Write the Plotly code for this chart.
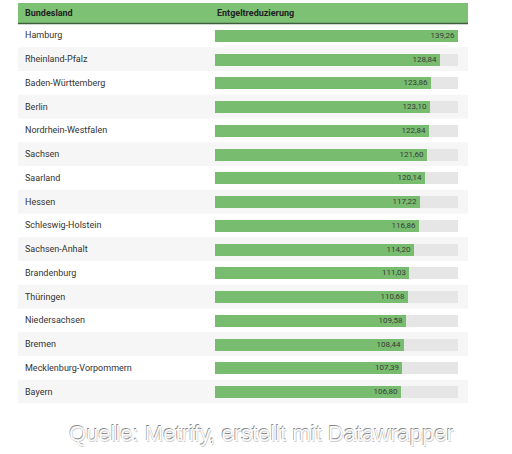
import plotly.graph_objects as go

W, H = 512, 454

states = ["Hamburg", "Rheinland-Pfalz", "Baden-Württemberg", "Berlin",
          "Nordrhein-Westfalen", "Sachsen", "Saarland", "Hessen",
          "Schleswig-Holstein", "Sachsen-Anhalt", "Brandenburg", "Thüringen",
          "Niedersachsen", "Bremen", "Mecklenburg-Vorpommern", "Bayern"]
values = [139.26, 128.84, 123.86, 123.10, 122.84, 121.60, 120.14, 117.22,
          116.86, 114.20, 111.03, 110.68, 109.58, 108.44, 107.39, 106.80]

col_header = "Bundesland"
val_header = "Entgeltreduzierung"
source = "Quelle: Metrify, erstellt mit Datawrapper"

vmax = max(values)
labels = [f"{v:.2f}".replace(".", ",") for v in values]


def px_x(p):
    return p / W


def px_y(p):
    return 1 - p / H


# table geometry in pixels
tbl_left, tbl_right = 18, 468
head_top, head_bot = 3, 23.5
rows_top, rows_bot = 23.5, 403.5
bar_left, bar_right = 215, 458

fig = go.Figure()

fig.add_trace(go.Bar(
    y=states, x=[vmax] * len(states), orientation="h",
    marker=dict(color="#e6e6e6", line_width=0), width=0.5,
    hoverinfo="skip", showlegend=False))

fig.add_trace(go.Bar(
    y=states, x=values, orientation="h",
    marker=dict(color="#78bd6f", line_width=0), width=0.5,
    text=labels, textposition="inside", insidetextanchor="end",
    textfont=dict(family="Roboto", size=8, color="#3a3a3a"),
    textangle=0, cliponaxis=False, showlegend=False))

shapes = []
# alternating row backgrounds
for i, s in enumerate(states):
    if i % 2 == 1:
        shapes.append(dict(type="rect", xref="paper", yref="y", layer="below",
                           x0=px_x(tbl_left), x1=px_x(tbl_right),
                           y0=i - 0.5, y1=i + 0.5,
                           fillcolor="#f6f6f6", line_width=0))
# header
shapes.append(dict(type="rect", xref="paper", yref="paper", layer="below",
                   x0=px_x(tbl_left), x1=px_x(tbl_right),
                   y0=px_y(head_bot), y1=px_y(head_top),
                   fillcolor="#7cc174", line_width=0))
shapes.append(dict(type="line", xref="paper", yref="paper",
                   x0=px_x(tbl_left), x1=px_x(tbl_right),
                   y0=px_y(head_bot), y1=px_y(head_bot),
                   line=dict(color="#3f5f3c", width=1.5)))

annotations = [
    dict(text="<b>" + col_header + "</b>", xref="paper", yref="paper",
         x=px_x(23), y=px_y((head_top + head_bot) / 2), xanchor="left",
         yanchor="middle", showarrow=False,
         font=dict(family="Roboto", size=9, color="#222222")),
    dict(text="<b>" + val_header + "</b>", xref="paper", yref="paper",
         x=px_x(bar_left), y=px_y((head_top + head_bot) / 2), xanchor="left",
         yanchor="middle", showarrow=False,
         font=dict(family="Roboto", size=9, color="#222222")),
    dict(text=source, xref="paper", yref="paper",
         x=px_x(261), y=px_y(433), xanchor="center", yanchor="middle",
         showarrow=False,
         font=dict(family="Liberation Sans", size=22, color="#fafafa",
                   shadow="-0.6px -0.6px 0 #8a8a8a, 0.6px 0.6px 0 #d0d0d0")),
]
for s in states:
    annotations.append(dict(text=s, xref="paper", yref="y", x=px_x(23), y=s,
                            xanchor="left", yanchor="middle", showarrow=False,
                            font=dict(family="Roboto", size=9, color="#333333")))

fig.update_layout(
    width=W, height=H,
    margin=dict(l=0, r=0, t=0, b=0),
    paper_bgcolor="white", plot_bgcolor="rgba(0,0,0,0)",
    barmode="overlay", bargap=0,
    shapes=shapes, annotations=annotations,
    xaxis=dict(domain=[px_x(bar_left), px_x(bar_right)], range=[0, vmax],
               visible=False, fixedrange=True),
    yaxis=dict(domain=[px_y(rows_bot), px_y(rows_top)],
               range=[len(states) - 0.5, -0.5], visible=False,
               fixedrange=True),
    uniformtext=dict(minsize=8, mode="show"),
)

# the page's default body margin would shift the figure by 8px
fig.write_html("out.html", config={"displayModeBar": False},
               post_script="document.body.style.margin='0';")
